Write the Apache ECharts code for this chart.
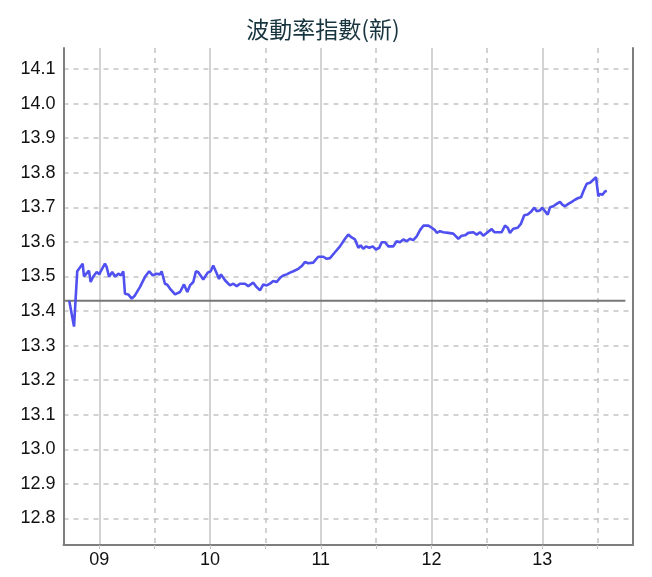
<!DOCTYPE html>
<html><head><meta charset="utf-8">
<script src="https://cdn.jsdelivr.net/npm/echarts@6/dist/echarts.min.js"></script>
<style>html,body{margin:0;padding:0;background:#fff}#c{width:652px;height:577px}</style>
</head><body><div id="c"></div>
<script>
const titleText = '波動率指數(新)';
const times = [
2008.729,2008.772,2008.801,2008.850,2008.862,2008.907,2008.922,2008.946,2008.977,2009.000,
2009.013,2009.051,2009.067,2009.088,2009.117,2009.142,2009.172,2009.196,2009.217,2009.232,
2009.262,2009.293,2009.322,2009.368,2009.413,2009.451,2009.482,2009.518,2009.548,2009.563,
2009.593,2009.614,2009.638,2009.684,2009.729,2009.765,2009.783,2009.795,2009.819,2009.849,
2009.873,2009.894,2009.939,2009.979,2010.006,2010.029,2010.060,2010.081,2010.099,2010.135,
2010.180,2010.210,2010.241,2010.270,2010.316,2010.345,2010.391,2010.421,2010.451,2010.481,
2010.512,2010.541,2010.571,2010.602,2010.632,2010.661,2010.692,2010.722,2010.752,2010.797,
2010.828,2010.857,2010.887,2010.932,2010.977,2011.023,2011.053,2011.083,2011.128,2011.173,
2011.219,2011.248,2011.279,2011.309,2011.324,2011.339,2011.360,2011.384,2011.408,2011.438,
2011.469,2011.498,2011.528,2011.550,2011.580,2011.610,2011.655,2011.685,2011.715,2011.745,
2011.776,2011.805,2011.835,2011.866,2011.896,2011.926,2011.971,2012.001,2012.031,2012.047,
2012.076,2012.106,2012.151,2012.196,2012.242,2012.272,2012.302,2012.332,2012.377,2012.408,
2012.438,2012.467,2012.498,2012.543,2012.567,2012.603,2012.633,2012.663,2012.688,2012.708,
2012.738,2012.778,2012.808,2012.837,2012.868,2012.898,2012.928,2012.949,2012.979,2013.000,
2013.024,2013.049,2013.070,2013.099,2013.130,2013.160,2013.181,2013.205,2013.235,2013.266,
2013.295,2013.325,2013.350,2013.370,2013.401,2013.431,2013.461,2013.485,2013.506,2013.521,
2013.542,2013.566,2013.582];
const values = [
13.430,13.355,13.515,13.537,13.500,13.517,13.484,13.500,13.513,13.506,
13.515,13.537,13.527,13.499,13.513,13.500,13.508,13.503,13.515,13.450,
13.448,13.436,13.445,13.470,13.499,13.515,13.503,13.508,13.506,13.515,
13.479,13.476,13.465,13.448,13.455,13.477,13.481,13.455,13.474,13.484,
13.515,13.512,13.491,13.511,13.515,13.532,13.509,13.493,13.506,13.489,
13.474,13.479,13.472,13.479,13.479,13.472,13.482,13.469,13.460,13.477,
13.474,13.479,13.487,13.484,13.496,13.503,13.506,13.511,13.515,13.522,
13.530,13.542,13.538,13.540,13.557,13.557,13.551,13.553,13.570,13.587,
13.609,13.621,13.613,13.607,13.609,13.583,13.590,13.580,13.587,13.583,
13.587,13.578,13.583,13.599,13.599,13.587,13.587,13.602,13.599,13.607,
13.602,13.609,13.605,13.616,13.634,13.647,13.647,13.641,13.634,13.626,
13.631,13.628,13.626,13.624,13.609,13.618,13.619,13.626,13.628,13.621,
13.628,13.618,13.626,13.637,13.628,13.628,13.628,13.647,13.641,13.626,
13.638,13.641,13.653,13.677,13.679,13.687,13.699,13.689,13.691,13.699,
13.689,13.679,13.700,13.703,13.710,13.716,13.708,13.703,13.710,13.716,
13.722,13.727,13.729,13.746,13.768,13.771,13.780,13.787,13.732,13.739,
13.736,13.746,13.748];
const refValue = 13.43;
const refSpan = [2008.677, 2013.75];
const yTicks = [12.8,12.9,13.0,13.1,13.2,13.3,13.4,13.5,13.6,13.7,13.8,13.9,14.0,14.1];
const yearTicks = [2009,2010,2011,2012,2013];
const halfTicks = [2009.5,2010.5,2011.5,2012.5,2013.5];
const xRange = [2008.677, 2013.819];
const yRange = [12.723, 14.161];

const chart = echarts.init(document.getElementById('c'), null, {renderer:'canvas'});
const axisGray = '#7e7e7e';
const gridGray = '#c4c4c4';
const labelFont = '"Liberation Sans",Arial,sans-serif';
chart.setOption({
  animation: false,
  backgroundColor: '#fff',
  title: {
    text: titleText, left: 318, top: 13, textAlign: 'center',
    textStyle: {fontFamily: '"Noto Sans CJK TC","Noto Sans CJK SC",sans-serif', fontSize: 23, fontWeight: 'normal', color: '#17343f'}
  },
  grid: {left: 63.5, right: 19, top: 48, bottom: 32, containLabel: false},
  xAxis: [{
    type: 'value', min: xRange[0], max: xRange[1], position: 'bottom',
    axisLine: {show: true, lineStyle: {color: axisGray, width: 2}},
    axisTick: {show: true, customValues: yearTicks, length: 4, lineStyle: {color: gridGray}},
    axisLabel: {customValues: yearTicks, margin: 6, fontSize: 18, color: '#111',
      fontFamily: labelFont,
      formatter: v => String(Math.round(v) % 100).padStart(2, '0')},
    splitLine: {show: true, lineStyle: {color: gridGray, width: 1.5, type: 'solid'}}
  }, {
    type: 'value', min: xRange[0], max: xRange[1], position: 'bottom',
    axisLine: {show: false},
    axisTick: {show: true, customValues: halfTicks, length: 4, lineStyle: {color: gridGray}},
    axisLabel: {show: false, customValues: halfTicks},
    splitLine: {show: true, lineStyle: {color: gridGray, width: 1.5, type: [5, 5]}}
  }],
  yAxis: [{
    type: 'value', min: yRange[0], max: yRange[1], position: 'left',
    axisLine: {show: true, lineStyle: {color: axisGray, width: 2}},
    axisTick: {show: false, customValues: yTicks},
    axisLabel: {customValues: yTicks, margin: 8, fontSize: 18, color: '#111',
      fontFamily: labelFont,
      formatter: v => v.toFixed(1)},
    splitLine: {show: true, lineStyle: {color: gridGray, width: 1.5, type: [5, 5]}}
  }, {
    type: 'value', min: yRange[0], max: yRange[1], position: 'right',
    axisLine: {show: true, lineStyle: {color: axisGray, width: 2}},
    axisTick: {show: false}, axisLabel: {show: false}, splitLine: {show: false}
  }],
  series: [{
    type: 'line', name: 'ref', xAxisIndex: 0, yAxisIndex: 0,
    data: refSpan.map(t => [t, refValue]),
    symbol: 'none', lineStyle: {color: '#777', width: 2}, z: 3, silent: true
  }, {
    type: 'line', name: titleText, xAxisIndex: 0, yAxisIndex: 0,
    data: times.map((t, i) => [t, values[i]]),
    symbol: 'none', lineStyle: {color: '#5050f0', width: 2.6}, z: 4
  }]
});
</script></body></html>
